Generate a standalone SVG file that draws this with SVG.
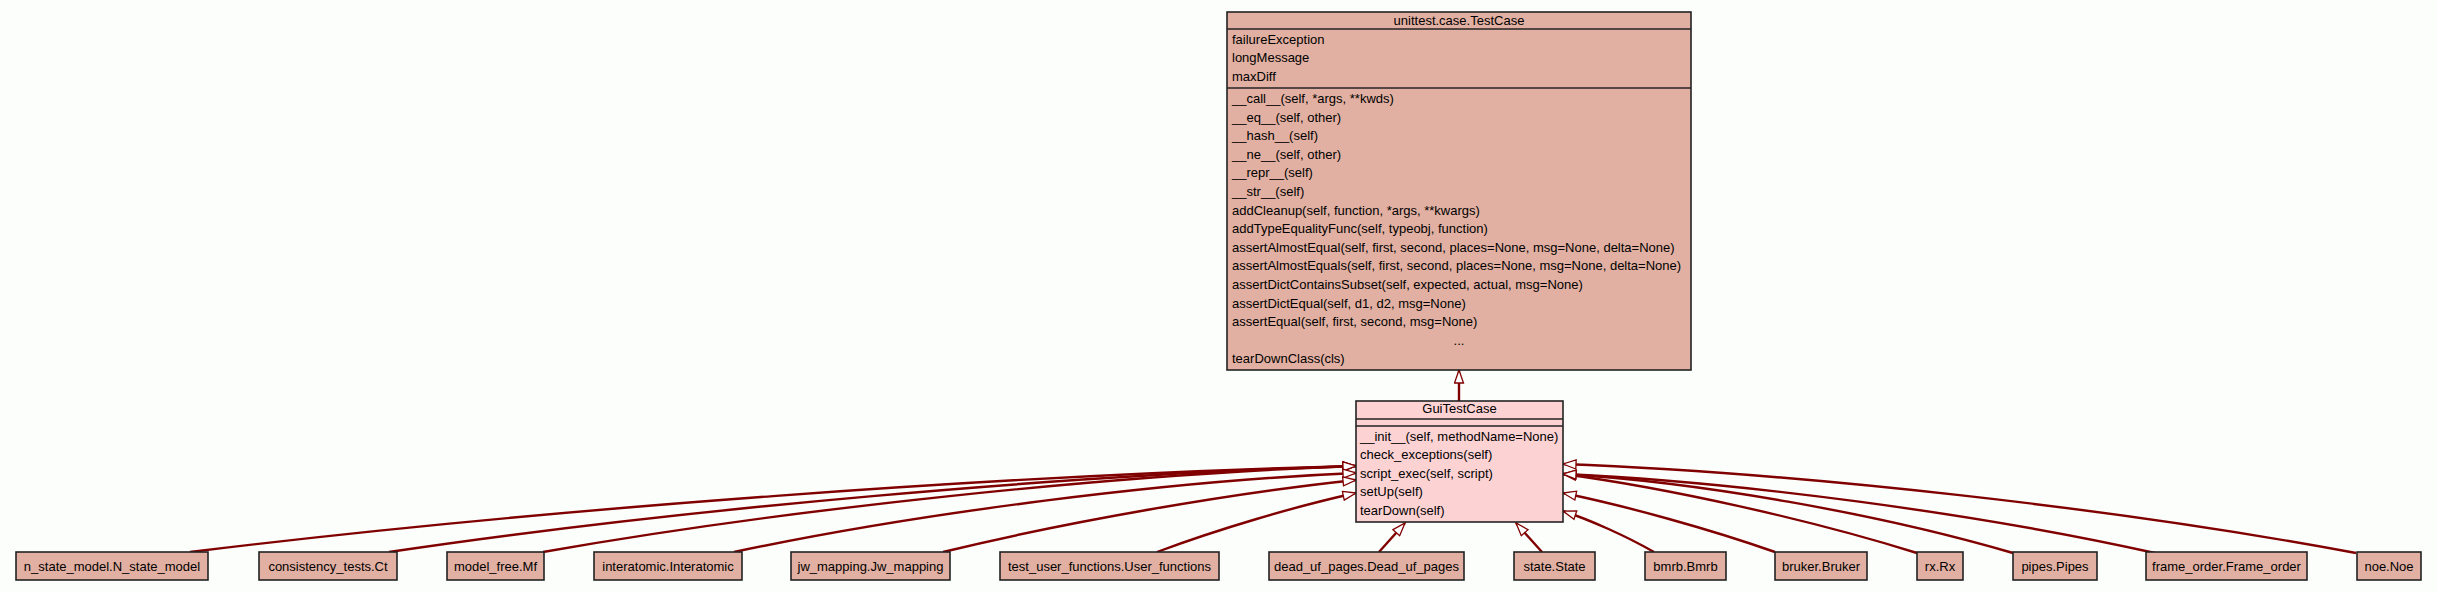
<svg xmlns="http://www.w3.org/2000/svg" width="2437" height="592" viewBox="0 0 2437 592">
<style>
.bg{fill:#FCFEFC}
.box{fill:#E2B0A2;stroke:#222;stroke-width:1.6}
.gui{fill:#FDD2D3;stroke:#222;stroke-width:1.6}
.sep{stroke:#222;stroke-width:1.6}
text{font-family:"Liberation Sans",Arial,Helvetica,sans-serif;font-size:13px;fill:#000}
.c{text-anchor:middle}
.e{fill:none;stroke:#800000;stroke-width:2.4;marker-end:url(#tri)}
</style>
<defs>
<marker id="tri" markerUnits="userSpaceOnUse" viewBox="0 0 15 11" refX="14" refY="5.5" markerWidth="15" markerHeight="11" orient="auto">
<path d="M1,1 L14,5.5 L1,10 Z" fill="#FFFFFF" stroke="#800000" stroke-width="1.3"/>
</marker>
</defs>
<rect class="bg" x="0" y="0" width="2437" height="592"/>

<g id="connectors">
<path class="e" d="M1459,401 L1459,370"/>
<path class="e" d="M190,552 C539.8,509 1006.2,474.6 1356,466"/>
<path class="e" d="M389,552 C679.1,509 1065.9,474.6 1356,466"/>
<path class="e" d="M543,552 C786.9,509 1112.1,474.6 1356,466"/>
<path class="e" d="M734,552 C920.6,512.5 1169.4,480.9 1356,473"/>
<path class="e" d="M943,552 C1066.9,521.8 1232.1,493 1356,480"/>
<path class="e" d="M1157,552 C1216.7,529.6 1296.3,506 1356,493"/>
<path class="e" d="M1379,552 L1405,523"/>
<path class="e" d="M1542,552 L1516,523"/>
<path class="e" d="M1654,552 C1626.7,536.4 1590.3,520 1563,511"/>
<path class="e" d="M1775,552 C1711.4,529.6 1626.6,506 1563,493"/>
<path class="e" d="M1917,553 C1810.8,519.8 1669.2,488.2 1563,474"/>
<path class="e" d="M2013,553 C1878,513.5 1698,481.9 1563,474"/>
<path class="e" d="M2155,553 C1977.4,513.5 1740.6,481.9 1563,474"/>
<path class="e" d="M2356,553 C2118.1,508.5 1800.9,472.9 1563,464"/>
</g>

<g id="TestCase">
<rect class="box" x="1227" y="12" width="464" height="358"/>
<line class="sep" x1="1227" y1="29" x2="1691" y2="29"/>
<line class="sep" x1="1227" y1="88" x2="1691" y2="88"/>
<text class="c" x="1459" y="24.5">unittest.case.TestCase</text>
<text x="1232" y="43.5">failureException</text>
<text x="1232" y="62">longMessage</text>
<text x="1232" y="80.5">maxDiff</text>
<text x="1232" y="103">__call__(self, *args, **kwds)</text>
<text x="1232" y="121.6">__eq__(self, other)</text>
<text x="1232" y="140.2">__hash__(self)</text>
<text x="1232" y="158.8">__ne__(self, other)</text>
<text x="1232" y="177.4">__repr__(self)</text>
<text x="1232" y="196">__str__(self)</text>
<text x="1232" y="214.6">addCleanup(self, function, *args, **kwargs)</text>
<text x="1232" y="233.2">addTypeEqualityFunc(self, typeobj, function)</text>
<text x="1232" y="251.8">assertAlmostEqual(self, first, second, places=None, msg=None, delta=None)</text>
<text x="1232" y="270.4">assertAlmostEquals(self, first, second, places=None, msg=None, delta=None)</text>
<text x="1232" y="289">assertDictContainsSubset(self, expected, actual, msg=None)</text>
<text x="1232" y="307.6">assertDictEqual(self, d1, d2, msg=None)</text>
<text x="1232" y="326.2">assertEqual(self, first, second, msg=None)</text>
<text class="c" x="1459" y="344.8">...</text>
<text x="1232" y="363.4">tearDownClass(cls)</text>
</g>

<g id="GuiTestCase">
<rect class="gui" x="1356" y="401" width="207" height="121"/>
<line class="sep" x1="1356" y1="419" x2="1563" y2="419"/>
<line class="sep" x1="1356" y1="426" x2="1563" y2="426"/>
<text class="c" x="1459.5" y="412.5">GuiTestCase</text>
<text x="1360" y="440.5">__init__(self, methodName=None)</text>
<text x="1360" y="459.1">check_exceptions(self)</text>
<text x="1360" y="477.7">script_exec(self, script)</text>
<text x="1360" y="496.3">setUp(self)</text>
<text x="1360" y="514.9">tearDown(self)</text>
</g>

<g id="n_state_model"><rect class="box" x="16" y="552" width="192" height="28"/><text class="c" x="112" y="570.5">n_state_model.N_state_model</text></g>
<g id="consistency_tests"><rect class="box" x="259" y="552" width="138" height="28"/><text class="c" x="328" y="570.5">consistency_tests.Ct</text></g>
<g id="model_free"><rect class="box" x="447" y="552" width="97" height="28"/><text class="c" x="495.5" y="570.5">model_free.Mf</text></g>
<g id="interatomic"><rect class="box" x="594" y="552" width="148" height="28"/><text class="c" x="668" y="570.5">interatomic.Interatomic</text></g>
<g id="jw_mapping"><rect class="box" x="791" y="552" width="159" height="28"/><text class="c" x="870.5" y="570.5">jw_mapping.Jw_mapping</text></g>
<g id="test_user_functions"><rect class="box" x="1000" y="552" width="219" height="28"/><text class="c" x="1109.5" y="570.5">test_user_functions.User_functions</text></g>
<g id="dead_uf_pages"><rect class="box" x="1269" y="552" width="195" height="28"/><text class="c" x="1366.5" y="570.5">dead_uf_pages.Dead_uf_pages</text></g>
<g id="state"><rect class="box" x="1514" y="552" width="81" height="28"/><text class="c" x="1554.5" y="570.5">state.State</text></g>
<g id="bmrb"><rect class="box" x="1645" y="552" width="81" height="28"/><text class="c" x="1685.5" y="570.5">bmrb.Bmrb</text></g>
<g id="bruker"><rect class="box" x="1775" y="552" width="92" height="28"/><text class="c" x="1821" y="570.5">bruker.Bruker</text></g>
<g id="rx"><rect class="box" x="1917" y="552" width="46" height="28"/><text class="c" x="1940" y="570.5">rx.Rx</text></g>
<g id="pipes"><rect class="box" x="2013" y="552" width="84" height="28"/><text class="c" x="2055" y="570.5">pipes.Pipes</text></g>
<g id="frame_order"><rect class="box" x="2146" y="552" width="161" height="28"/><text class="c" x="2226.5" y="570.5">frame_order.Frame_order</text></g>
<g id="noe"><rect class="box" x="2357" y="552" width="64" height="28"/><text class="c" x="2389" y="570.5">noe.Noe</text></g>
</svg>
